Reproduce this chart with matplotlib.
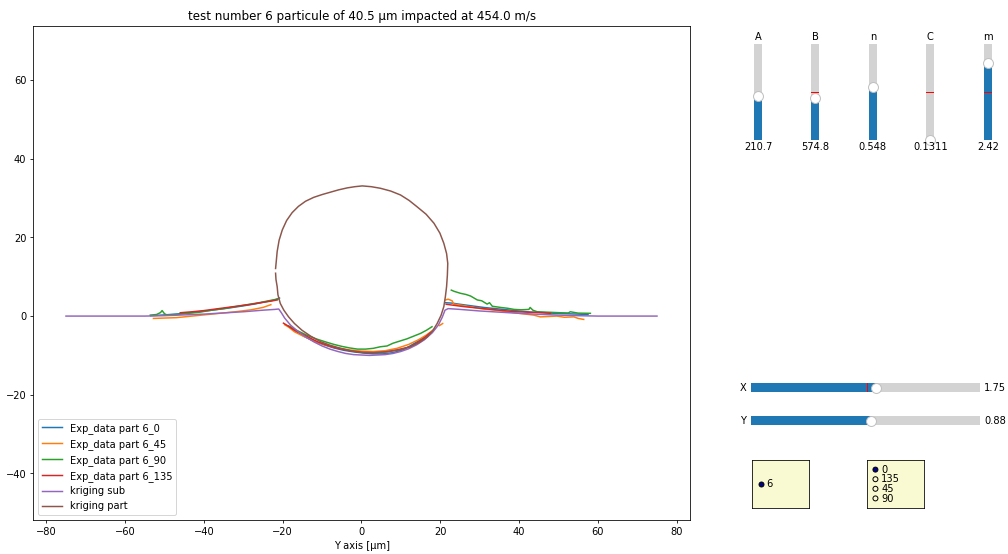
import numpy as np
import matplotlib
matplotlib.use('Agg')
import matplotlib.pyplot as plt
from matplotlib.widgets import Slider, RadioButtons

nan = np.nan

# profile data (x in um, y in um), segments split by nan
x_p0 = [-53.5, -50, -46, -42, -38, -34, -30, -27, -24, -22, -20.8, nan,
        -18.0, -16.5, -14.5, -12, -9.5, -7, -4.5, -2, 0.5, 3, 5.5, 8, 10.5, 12.5, 14.5, 16.5, 18, nan,
        21.3, 23, 25, 28, 31, 34, 37, 40, 43, 46, 49, 52, 55, 57.5]
y_p0 = [0.1, 0.3, 0.6, 1.0, 1.5, 2.0, 2.6, 3.1, 3.7, 4.1, 4.6, nan,
        -2.8, -3.9, -5.2, -6.4, -7.3, -8.1, -8.7, -9.1, -9.4, -9.6, -9.6, -9.3, -8.6, -7.5, -6.3, -5.0, -3.8, nan,
        3.4, 3.3, 3.0, 2.6, 2.2, 1.9, 1.6, 1.3, 1.0, 0.9, 0.7, 0.6, 0.5, 0.4]

x_p45 = [-52.8, -50, -47, -44, -40, -36, -32, -28, -25, -23, nan,
         -19.5, -18.5, -17, -15, -13, -11, -8.5, -6, -3, 0, 3, 6, 9, 12, 14.5, 16.5, 18.5, nan,
         19.8, 20.6, nan,
         21.3, 22, 23, 23.4, 25, 28.5, 31, 34, 37, 40, 43.7, 45.4, 47.5, 49.6, 51.5, 53.9, 55, 56.4]
y_p45 = [-0.6, -0.5, -0.4, -0.1, 0.3, 0.7, 1.1, 1.6, 2.2, 2.9, nan,
         -2.2, -2.8, -4.0, -5.0, -5.9, -6.7, -7.5, -8.1, -8.6, -8.9, -9.0, -8.8, -8.2, -7.2, -6.0, -4.8, -3.3, nan,
         -2.4, -1.9, nan,
         4.1, 4.3, 3.9, 3.05, 2.8, 2.2, 1.8, 1.5, 1.1, 0.7, 0.25, -0.2, -0.1, 0.0, -0.3, -0.2, -0.6, -0.85]

x_p90 = [-53.6, -52, -51, -50.6, -50, -49.4, -47, -44, -41, -38, -35, -32, -29, -26, -24, -22, -21, nan,
         -18.5, -16.5, -14, -11.5, -9, -7, -5, -3, -1, 1, 3, 4.8, 6.5, 8, 9.9, 11.5, 13, 15, 16.5, 17.9, nan,
         22.8, 23.5, 25.1, 26.5, 27.7, 29.4, 30.5, 31.9, 32.5, 33.2, 35.3, 37, 38.7, 40.5, 42.5, 42.8, 43.5,
         44.6, 47, 50.5, 52.5, 53, 55, 58.1]
y_p90 = [0.25, 0.4, 0.9, 1.4, 0.6, 0.3, 0.4, 0.7, 1.0, 1.5, 1.9, 2.4, 2.9, 3.4, 3.8, 4.2, 4.4, nan,
         -2.5, -3.6, -4.8, -5.8, -6.6, -7.2, -7.7, -8.1, -8.4, -8.4, -8.2, -7.8, -7.6, -6.9, -6.3, -5.8, -5.2, -4.4, -3.6, -2.7, nan,
         6.6, 6.3, 5.8, 5.5, 5.1, 4.1, 3.9, 3.05, 3.4, 2.5, 2.2, 2.0, 1.7, 1.6, 1.7, 2.2, 1.5,
         1.1, 1.0, 0.85, 0.8, 1.1, 0.75, 0.7]

x_p135 = [-46, -43, -40, -37, -34, -31, -28, -25, -23, -21.4, nan,
          -19.8, -18.8, -17, -15, -13, -11, -8.5, -6, -3, 0, 3, 6, 9, 12.4, 14, 15.8, 17.5, nan,
          21.5, 23, 26, 29, 32, 35, 37, 39.5, 42, 45, 48]
y_p135 = [0.85, 1.1, 1.4, 1.8, 2.2, 2.6, 3.0, 3.5, 3.8, 4.1, nan,
          -1.8, -2.4, -3.6, -4.6, -5.6, -6.6, -7.5, -8.2, -8.8, -9.2, -9.3, -9.1, -8.6, -7.8, -6.9, -5.7, -4.2, nan,
          3.0, 2.8, 2.4, 2.1, 1.8, 1.5, 1.3, 1.1, 1.0, 0.9, 0.7]

x_sub = [-75, -60, -55, -50, -45, -40, -35, -30, -25, -22, -21, -20.3, -19.5, -18, -16, -14, -12, -10, -8, -6,
         -4, -2, 0, 2, 4, 6, 8, 10, 12, 14, 16, 18, 19.5, 20.5, 21.2, 22, 25, 30, 35, 40, 45, 50, 55, 60, 75]
y_sub = [0, 0, 0, 0.1, 0.3, 0.5, 0.8, 1.1, 1.5, 1.7, 1.8, 0.8, -0.5, -2.3, -4.0, -5.4, -6.6, -7.6, -8.4, -9.0,
         -9.5, -9.8, -9.9, -10.0, -9.9, -9.8, -9.5, -9.0, -8.3, -7.3, -6.0, -4.2, -2.3, -0.3, 1.5, 1.9, 1.7, 1.3,
         1.0, 0.7, 0.45, 0.25, 0.1, 0, 0]

x_part = [-21.8, -21.6, -21.4, -20.9, -20.1, -19.0, -17.6, -16.0, -14.2, -12.1, -10, -7.9, -5.8, -3.6, -1.7, 0.2,
          2.5, 4.8, 7.4, 9.9, 12.1, 14.1, 16.4, 18.4, 19.9, 20.9, 21.6, 21.9, 21.8, 21.6, 21.3, 20.9, 20.2,
          19.2, 18.1, 16.7, 14.7, 12.4, 9.6, 6.5, 3.5, 0.6, -2.4, -5.3, -8, -10.4, -12.9, -15.1, -17, -18.5,
          -19.7, -20.6, -21.2, -21.4, -21.7, -21.8]
y_part = [12.1, 14.2, 16.4, 19.3, 21.9, 24.3, 26.3, 27.9, 29.2, 30.2, 30.9, 31.5, 32.1, 32.6, 32.9, 33.1,
          32.9, 32.5, 31.8, 30.8, 29.4, 27.8, 25.9, 23.6, 21.1, 18.5, 15.9, 13.4, 10.4, 7.5, 5.0, 2.4, 0.2,
          -1.9, -3.7, -5.3, -6.7, -7.8, -8.6, -9.1, -9.3, -9.3, -8.9, -8.2, -7.4, -6.5, -5.1, -3.6, -1.9, -0.2,
          1.5, 3.2, 5.4, 7.5, 9.3, 10.9]

# slider settings
slider_names = ['A', 'B', 'n', 'C', 'm']
slider_vals = [210.7, 574.8, 0.548, 0.1311, 2.42]
slider_init = [210.7, 650.0, 0.548, 0.565, 1.5]
slider_min = [0, 0, 0, 0.1311, 0]
slider_max = [460, 1300, 1, 1.0, 3]
slider_fmt = ['%1.1f', '%1.1f', '%1.3f', '%1.4f', '%1.2f']

particle_ids = ['6']
angles = ['0', '135', '45', '90']

fig = plt.figure(figsize=(1008 / 71.5, 554.2 / 71.5), dpi=71.5)
ax = fig.add_axes([0.033, 0.061, 0.652, 0.892])
ax.plot(x_p0, y_p0, label='Exp_data part 6_0')
ax.plot(x_p45, y_p45, label='Exp_data part 6_45')
ax.plot(x_p90, y_p90, label='Exp_data part 6_90')
ax.plot(x_p135, y_p135, label='Exp_data part 6_135')
ax.plot(x_sub, y_sub, label='kriging sub')
ax.plot(x_part, y_part, label='kriging part')
ax.set_xlim(-83.3, 83.5)
ax.set_ylim(-51.9, 73.8)
ax.set_xticks(range(-80, 81, 20))
ax.set_yticks(range(-40, 61, 20))
ax.set_xlabel('Y axis [µm]')
ax.set_title('test number 6 particule of 40.5 µm impacted at 454.0 m/s')
ax.legend(loc='lower left')

sliders = []
for i, name in enumerate(slider_names):
    sax = fig.add_axes([0.744 + i * 0.057, 0.747, 0.0159, 0.1733])
    s = Slider(sax, name, slider_min[i], slider_max[i], valinit=slider_init[i],
               valfmt=slider_fmt[i], orientation='vertical')
    s.set_val(slider_vals[i])
    sliders.append(s)

ax_x = fig.add_axes([0.745, 0.2834, 0.227, 0.0325])
s_x = Slider(ax_x, 'X', 0, 3.2, valinit=1.62, valfmt='%1.2f')
s_x.set_val(1.75)
ax_y = fig.add_axes([0.745, 0.2238, 0.227, 0.0325])
s_y = Slider(ax_y, 'Y', 0, 1.68, valinit=0.88, valfmt='%1.2f')

rax1 = fig.add_axes([0.746, 0.083, 0.0566, 0.0866], facecolor='lightgoldenrodyellow')
radio1 = RadioButtons(rax1, particle_ids, active=0, activecolor='#00008b')
rax2 = fig.add_axes([0.86, 0.083, 0.0566, 0.0866], facecolor='lightgoldenrodyellow')
radio2 = RadioButtons(rax2, angles, active=0, activecolor='#00008b')

fig.savefig('out.png', dpi=71.5)
plt.close()
